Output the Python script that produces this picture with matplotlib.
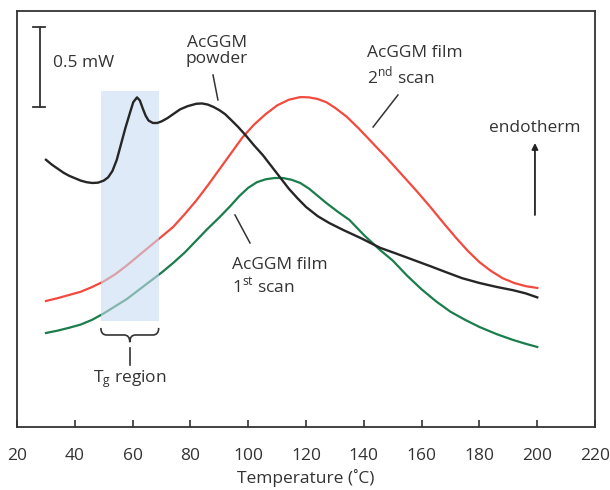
import matplotlib.pyplot as plt
from matplotlib.path import Path
from matplotlib.patches import PathPatch

plt.rcParams['font.family'] = ['Open Sans', 'DejaVu Sans']
plt.rcParams['mathtext.fontset'] = 'custom'
plt.rcParams['mathtext.rm'] = 'Open Sans'

# DSC traces, heat flow in mW (arbitrary offset), temperature in C
powder_t = [30, 32, 34, 36, 38, 40, 42, 44, 46, 48, 50, 51.5, 53, 54.5, 56, 57.5, 59, 60.2,
            61.5, 62.5, 63.5, 64.5, 65.5, 67, 68.5, 70, 72, 74, 76.4, 79, 82, 84, 86, 88,
            90, 92, 94, 96.5, 99, 102, 105, 108, 111, 114, 117, 120, 124, 128, 133, 139,
            145.6, 151, 157, 163, 168.8, 174, 180, 186, 191.6, 196, 200]
powder_q = [1.67, 1.64, 1.615, 1.59, 1.57, 1.555, 1.54, 1.53, 1.525, 1.527, 1.54, 1.56, 1.60,
            1.67, 1.77, 1.87, 1.96, 2.03, 2.06, 2.04, 1.99, 1.945, 1.915, 1.90, 1.90, 1.91,
            1.93, 1.955, 1.985, 2.005, 2.02, 2.022, 2.015, 2.0, 1.98, 1.955, 1.92, 1.875,
            1.825, 1.76, 1.70, 1.63, 1.56, 1.49, 1.43, 1.375, 1.318, 1.275, 1.23, 1.18, 1.12,
            1.085, 1.045, 1.005, 0.965, 0.93, 0.90, 0.875, 0.855, 0.835, 0.81]

scan2_t = [30, 34, 38, 42, 46, 50, 54, 58, 62, 66, 70, 74, 78, 82, 86, 90, 94, 98, 102, 106,
           110, 114, 118, 121, 124, 127, 130, 134, 138, 143, 148, 152.5, 158, 163, 168, 172,
           176, 180, 184, 188, 192, 196, 200]
scan2_q = [0.7875, 0.805, 0.825, 0.845, 0.875, 0.91, 0.955, 1.01, 1.07, 1.13, 1.19, 1.25,
           1.33, 1.415, 1.51, 1.61, 1.71, 1.81, 1.89, 1.955, 2.01, 2.045, 2.062, 2.06, 2.05,
           2.03, 1.995, 1.94, 1.87, 1.775, 1.68, 1.59, 1.48, 1.375, 1.265, 1.18, 1.10, 1.03,
           0.975, 0.93, 0.90, 0.88, 0.869]

scan1_t = [30, 34, 38, 42, 46, 50, 54, 58, 62, 66, 70, 74, 78, 82, 86, 90, 94, 97, 100, 103,
           106, 109, 112, 115, 118, 121, 124, 127, 131, 135, 140, 145.6, 150, 155, 160, 165,
           170, 175, 180, 186, 191.6, 196, 200]
scan1_q = [0.5875, 0.602, 0.62, 0.64, 0.67, 0.71, 0.755, 0.80, 0.855, 0.91, 0.965, 1.025,
           1.09, 1.165, 1.24, 1.31, 1.385, 1.445, 1.495, 1.53, 1.548, 1.556, 1.556, 1.545,
           1.525, 1.49, 1.445, 1.40, 1.345, 1.294, 1.20, 1.106, 1.04, 0.945, 0.86, 0.785,
           0.72, 0.67, 0.625, 0.58, 0.544, 0.52, 0.50]

tg_region = (49, 69)
xticks = list(range(20, 221, 20))

fig = plt.figure(figsize=(6.1, 4.9), dpi=100)
ax = fig.add_axes([0.028, 0.1286, 0.9475, 0.849])

ax.plot(scan1_t, scan1_q, color='#1a7d4b', lw=1.6, zorder=3)
ax.plot(scan2_t, scan2_q, color='#f24a3e', lw=1.6, zorder=3)
ax.plot(powder_t, powder_q, color='#262626', lw=1.7, zorder=6)

ax.axvspan(tg_region[0], tg_region[1], ymin=0.6625 / 2.6, ymax=2.1 / 2.6,
           color='#c9dcf2', alpha=0.6, lw=0, zorder=5)

# brace under the Tg region
x0, x1 = tg_region
xm = (x0 + x1) / 2
verts = [(x0, 0.619), (x0, 0.575), (x0 + 2, 0.575),
         (xm - 2, 0.575), (xm, 0.575), (xm, 0.53),
         (xm, 0.575), (xm + 2, 0.575),
         (x1 - 2, 0.575), (x1, 0.575), (x1, 0.619)]
codes = [Path.MOVETO, Path.CURVE3, Path.CURVE3,
         Path.LINETO, Path.CURVE3, Path.CURVE3,
         Path.CURVE3, Path.CURVE3,
         Path.LINETO, Path.CURVE3, Path.CURVE3]
ax.add_patch(PathPatch(Path(verts, codes), fill=False, color='#333333', lw=1.2))
ax.plot([xm, xm], [0.494, 0.3875], color='#333333', lw=1.2)
ax.text(xm, 0.30, '$\\mathrm{T_g}$ region', ha='center', va='center', fontsize=12.5,
        color='#333333')

# scale bar
ax.plot([28, 28], [2.0, 2.5], color='#333333', lw=1.3)
ax.plot([25.6, 29.6], [2.5, 2.5], color='#333333', lw=1.3)
ax.plot([25.6, 29.6], [2.0, 2.0], color='#333333', lw=1.3)
ax.text(32.5, 2.275, '0.5 mW', ha='left', va='center', fontsize=12.5, color='#333333')

# labels
ax.text(89.2, 2.35, 'AcGGM\npowder', ha='center', va='center', fontsize=12.5,
        color='#333333', linespacing=1.05)
ax.plot([87.8, 89.5], [2.2, 2.044], color='#333333', lw=1.1)

ax.text(141, 2.256, 'AcGGM film\n2$^{\\mathrm{nd}}$ scan', ha='left', va='center',
        fontsize=12.5, color='#333333', linespacing=1.2)
ax.plot([151.8, 143.2], [2.075, 1.875], color='#333333', lw=1.1)

ax.text(94.4, 0.9375, 'AcGGM film\n1$^{\\mathrm{st}}$ scan', ha='left', va='center',
        fontsize=12.5, color='#333333', linespacing=1.2)
ax.plot([95.4, 100.6], [1.325, 1.15], color='#333333', lw=1.1)

ax.text(199.2, 1.869, 'endotherm', ha='center', va='center', fontsize=12.5, color='#333333')
ax.annotate('', xy=(199.2, 1.775), xytext=(199.2, 1.325),
            arrowprops=dict(arrowstyle='-|>', color='#222222', lw=1.3,
                            mutation_scale=9, shrinkA=0, shrinkB=0))

ax.set_xlim(20, 220)
ax.set_ylim(0, 2.6)
ax.set_xticks(xticks)
ax.set_yticks([])
ax.tick_params(axis='x', direction='in', length=5, width=1.2, pad=15,
               labelsize=12.5, colors='#333333')
for s in ax.spines.values():
    s.set_color('#333333')
    s.set_linewidth(1.3)
ax.set_xlabel('Temperature (˚C)', fontsize=12.5, color='#333333', labelpad=4)

fig.savefig('out.png', dpi=100)
